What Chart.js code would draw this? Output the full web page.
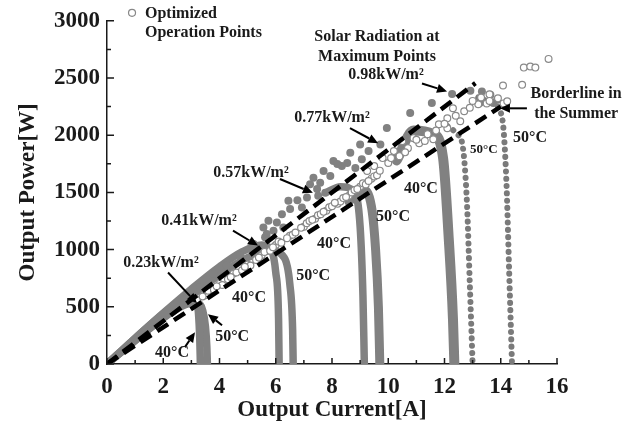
<!DOCTYPE html>
<html>
<head>
<meta charset="utf-8">
<script src="https://cdn.jsdelivr.net/npm/chart.js@4.4.1/dist/chart.umd.min.js"></script>
<style>
  html, body { margin: 0; padding: 0; background: #fff; }
  #wrap { width: 638px; height: 427px; }
</style>
</head>
<body>
<div id="wrap"><canvas id="pvChart" width="638" height="427"></canvas></div>
<script>
// axis ticks
const xTicks = [0, 2, 4, 6, 8, 10, 12, 14, 16];
const yTicks = [0, 500, 1000, 1500, 2000, 2500, 3000];

// P-I curves (dense parts), current [A] / power [W]
const c23_40I = [0, 1, 2, 2.6, 3.0, 3.15, 3.25, 3.3, 3.32];
const c23_40P = [0, 225, 440, 545, 580, 575, 450, 200, 0];
const c23_50I = [0, 1, 2, 2.8, 3.25, 3.4, 3.5, 3.55, 3.57];
const c23_50P = [0, 205, 400, 520, 530, 470, 330, 150, 0];
const c41_40I = [0, 1, 2, 3, 4, 4.8, 5.5, 5.85, 6.0, 6.1, 6.12];
const c41_40P = [0, 225, 445, 655, 850, 980, 1040, 990, 800, 400, 0];
const c41_50I = [0, 1, 2, 3, 4, 5, 5.8, 6.3, 6.5, 6.6, 6.62];
const c41_50P = [0, 205, 405, 595, 780, 930, 990, 930, 700, 300, 0];
const c57_40I = [7.8, 8.3, 8.8, 9.0, 9.1, 9.15];
const c57_40P = [1500, 1550, 1500, 1200, 600, 0];
const c57_50I = [8.6, 9.1, 9.4, 9.55, 9.65, 9.7];
const c57_50P = [1420, 1520, 1380, 1000, 500, 0];
const c77_40I = [10.3, 10.9, 11.6, 11.95, 12.15, 12.3, 12.35];
const c77_40P = [1780, 2040, 2010, 1800, 1100, 400, 0];
// sparse (dotted) curves
const c77_50I = [12.1, 12.45, 12.65, 12.8, 12.9, 13.0];
const c77_50P = [2080, 2010, 1900, 1400, 700, 0];
const c98_50I = [13.2, 13.75, 14.05, 14.2, 14.3, 14.4];
const c98_50P = [2330, 2270, 2150, 1600, 800, 0];

// scattered measured points above the band
const dotI = [3.31, 3.78, 4.26, 4.73, 5.21, 5.68, 5.33, 5.62, 5.56, 5.74, 5.92, 6.04, 6.22, 6.27,
  6.45, 6.51, 6.77, 6.93, 7.11, 7.22, 7.58, 7.47, 7.76, 7.51, 7.34, 7.70, 7.94, 8.05, 8.35,
  8.19, 8.54, 8.83, 8.65, 9.06, 9.0, 9.30, 9.72, 9.95, 10.78, 11.55, 12.27, 12.92, 13.33,
  13.25, 13.63, 13.87, 13.74];
const dotP = [672, 789, 861, 948, 1049, 1136, 1020, 1107, 1194, 1252, 1165, 1237, 1310, 1194,
  1426, 1354, 1432, 1368, 1455, 1571, 1585, 1530, 1496, 1470, 1629, 1687, 1643, 1774, 1730,
  1748, 1757, 1713, 1846, 1789, 1919, 1861, 1919, 2064, 2194, 2281, 2360, 2389, 2383,
  2281, 2354, 2310, 2281];

// optimized operation points
const optI = [3.2, 3.5, 3.6, 3.8, 4.0, 4.1, 4.3, 4.5, 4.6, 4.8, 5.0, 5.1, 5.3, 5.5, 5.6, 5.8,
  6.0, 6.1, 6.2, 6.5, 6.6, 6.7, 7.0, 7.1, 7.2, 7.4, 7.5, 7.6, 7.8, 7.9, 8.0, 8.2, 8.3, 8.4,
  8.6, 8.7, 8.8, 9.0, 9.1, 9.2, 9.4, 9.5, 9.6, 9.25, 9.5, 9.8, 10.0, 10.2, 10.4, 10.5, 10.7,
  10.9, 11.1, 11.4, 11.6, 11.8, 12.1, 12.1, 12.56, 12.3, 12.7, 13.2, 13.3, 13.5, 13.6, 13.6,
  13.9, 14.1, 14.23, 14.08, 14.76, 14.82, 15.05, 15.23, 15.7,
  3.4, 3.9, 4.4, 4.9, 5.4, 5.9, 6.4, 6.9, 7.3, 7.7, 8.1, 8.5, 8.9, 9.3, 9.7, 10.1, 10.6,
  11.0, 11.3, 11.7, 12.0, 12.4, 12.9, 13.0];
const optP = [560, 600, 640, 650, 700, 690, 740, 790, 800, 820, 870, 860, 910, 950, 980, 990,
  1040, 1070, 1060, 1120, 1130, 1150, 1200, 1230, 1250, 1270, 1300, 1310, 1340, 1370, 1380, 1400, 1420, 1450,
  1470, 1500, 1520, 1550, 1580, 1570, 1620, 1640, 1650, 1687, 1730, 1800, 1757, 1861, 1817, 1948, 1887,
  1974, 1930, 2009, 1965, 2096, 2061, 2148, 2122, 2235, 2209, 2270, 2330, 2278, 2357, 2300,
  2322, 2278, 2296, 2435, 2441, 2591, 2600, 2591, 2667,
  590, 680, 760, 850, 930, 1020, 1100, 1190, 1260, 1330, 1410, 1460, 1530, 1600, 1690, 1800, 1850,
  1960, 1950, 2040, 2100, 2170, 2240, 2300];

// dashed reference lines
const maxLineI = [0, 13.1];
const maxLineP = [0, 2455];
const summerLineI = [0, 14.0];
const summerLineP = [0, 2250];

const pts = (xs, ys) => xs.map((v, i) => ({ x: v, y: ys[i] }));

const gray = '#818181';
const ink = '#1a1a1a';
const serif = 'Liberation Serif, Times New Roman, serif';

function curve(xs, ys, w) {
  return {
    data: pts(xs, ys), showLine: true, pointRadius: 0, borderColor: gray,
    borderWidth: w || 7.5, borderCapStyle: 'round', borderJoinStyle: 'round',
    cubicInterpolationMode: 'monotone', order: 4
  };
}
function dotted(xs, ys) {
  return {
    data: pts(xs, ys), showLine: true, pointRadius: 0, borderColor: '#7a7a7a',
    borderWidth: 6, borderDash: [0.1, 7.2], borderCapStyle: 'round',
    cubicInterpolationMode: 'monotone', order: 4
  };
}
function dashed(xs, ys) {
  return {
    data: pts(xs, ys), showLine: true, pointRadius: 0, borderColor: '#000',
    borderWidth: 4.5, borderDash: [13, 7], order: 0
  };
}

// labels and arrows, in data coordinates
const labels = [
  ['Optimized', 1.35, 3061, 'left', 16],
  ['Operation Points', 1.35, 2896, 'left', 16],
  ['Solar Radiation at', 9.6, 2861, 'center', 16],
  ['Maximum Points', 9.6, 2687, 'center', 16],
  ['0.98kW/m²', 9.92, 2530, 'center', 16],
  ['Borderline in', 16.68, 2365, 'center', 16],
  ['the Summer', 16.68, 2183, 'center', 16],
  ['0.77kW/m²', 8.0, 2148, 'center', 16],
  ['0.57kW/m²', 5.12, 1670, 'center', 16],
  ['0.41kW/m²', 3.27, 1252, 'center', 16],
  ['0.23kW/m²', 1.92, 887, 'center', 16],
  ['50°C', 15.04, 1974, 'center', 16],
  ['50°C', 13.4, 1878, 'center', 13],
  ['40°C', 11.16, 1530, 'center', 16],
  ['50°C', 10.17, 1287, 'center', 16],
  ['40°C', 8.07, 1052, 'center', 16],
  ['50°C', 7.33, 774, 'center', 16],
  ['40°C', 5.05, 574, 'center', 16],
  ['50°C', 4.45, 235, 'center', 16],
  ['40°C', 2.31, 96, 'center', 16]
];
const arrows = [
  [2.17, 800, 3.2, 530],
  [4.48, 1165, 5.37, 1035],
  [6.15, 1617, 7.32, 1496],
  [8.64, 2061, 9.64, 1930],
  [11.2, 2452, 12.09, 2383],
  [14.93, 2235, 13.97, 2235],
  [4.09, 339, 3.59, 435],
  [2.77, 148, 3.13, 278]
];

const extras = {
  id: 'extras',
  afterDraw(chart) {
    const { ctx, scales: { x, y } } = chart;
    ctx.save();
    // inward ticks
    ctx.strokeStyle = ink;
    ctx.lineWidth = 1.5;
    ctx.beginPath();
    for (let v = x.min; v <= x.max; v += 1) {
      const px = x.getPixelForValue(v);
      const len = v % 2 === 0 ? 6 : 4;
      ctx.moveTo(px, y.bottom); ctx.lineTo(px, y.bottom - len);
    }
    for (let v = y.min; v <= y.max; v += 250) {
      const py = y.getPixelForValue(v);
      const len = v % 500 === 0 ? 7 : 4;
      ctx.moveTo(x.left, py); ctx.lineTo(x.left + len, py);
    }
    ctx.stroke();

    // legend marker
    ctx.beginPath();
    ctx.arc(x.getPixelForValue(0.89), y.getPixelForValue(3070), 3.5, 0, Math.PI * 2);
    ctx.fillStyle = '#fff';
    ctx.fill();
    ctx.strokeStyle = '#888';
    ctx.lineWidth = 1.2;
    ctx.stroke();

    // arrows
    ctx.strokeStyle = '#000';
    ctx.fillStyle = '#000';
    ctx.lineWidth = 2;
    arrows.forEach(([a, b, c, d]) => {
      const x1 = x.getPixelForValue(a), y1 = y.getPixelForValue(b);
      const x2 = x.getPixelForValue(c), y2 = y.getPixelForValue(d);
      const ang = Math.atan2(y2 - y1, x2 - x1);
      const hl = 10, hw = 4.5;
      const bx = x2 - hl * Math.cos(ang), by = y2 - hl * Math.sin(ang);
      ctx.beginPath();
      ctx.moveTo(x1, y1); ctx.lineTo(bx, by);
      ctx.stroke();
      ctx.beginPath();
      ctx.moveTo(x2, y2);
      ctx.lineTo(bx + hw * Math.sin(ang), by - hw * Math.cos(ang));
      ctx.lineTo(bx - hw * Math.sin(ang), by + hw * Math.cos(ang));
      ctx.closePath();
      ctx.fill();
    });

    // text
    ctx.fillStyle = ink;
    ctx.textBaseline = 'middle';
    labels.forEach(([t, a, b, align, size]) => {
      ctx.font = 'bold ' + size + 'px ' + serif;
      ctx.textAlign = align;
      ctx.fillText(t, x.getPixelForValue(a), y.getPixelForValue(b));
    });
    ctx.restore();
  }
};

const tickFont = { family: serif, size: 23, weight: 'bold' };

new Chart(document.getElementById('pvChart'), {
  type: 'scatter',
  data: {
    datasets: [
      dashed(maxLineI, maxLineP),
      dashed(summerLineI, summerLineP),
      {
        data: pts(optI, optP), pointRadius: 3.4, pointBackgroundColor: '#fff',
        pointBorderColor: '#8a8a8a', pointBorderWidth: 1.2, order: 1
      },
      {
        data: pts(dotI, dotP), pointRadius: 4, pointBackgroundColor: gray,
        pointBorderWidth: 0, order: 2
      },
      curve(c23_40I, c23_40P),
      curve(c23_50I, c23_50P),
      curve(c41_40I, c41_40P),
      curve(c41_50I, c41_50P),
      curve(c57_40I, c57_40P),
      curve(c57_50I, c57_50P, 9),
      curve(c77_40I, c77_40P, 10),
      dotted(c77_50I, c77_50P),
      dotted(c98_50I, c98_50P)
    ]
  },
  options: {
    responsive: false,
    devicePixelRatio: 1,
    animation: false,
    layout: { padding: { top: 19, right: 81, left: 0, bottom: 0 } },
    plugins: { legend: { display: false }, tooltip: { enabled: false } },
    scales: {
      x: {
        type: 'linear', min: 0, max: 16,
        afterBuildTicks: s => { s.ticks = xTicks.map(v => ({ value: v })); },
        afterFit: s => { s.height = 63; },
        ticks: { font: tickFont, color: ink, padding: 9, maxRotation: 0, callback: v => String(v) },
        grid: { display: false, drawTicks: false },
        border: { display: true, color: ink, width: 1.5 },
        title: { display: true, text: 'Output Current[A]', font: tickFont, color: ink, padding: { top: 0, bottom: 3 } }
      },
      y: {
        type: 'linear', min: 0, max: 3000,
        afterBuildTicks: s => { s.ticks = yTicks.map(v => ({ value: v })); },
        afterFit: s => { s.width = 107; },
        ticks: { font: tickFont, color: ink, padding: 7, callback: v => String(v) },
        grid: { display: false, drawTicks: false },
        border: { display: true, color: ink, width: 1.5 },
        title: { display: true, text: 'Output Power[W]', font: tickFont, color: ink, padding: { top: 14, bottom: 0 } }
      }
    }
  },
  plugins: [extras]
});
</script>
</body>
</html>
